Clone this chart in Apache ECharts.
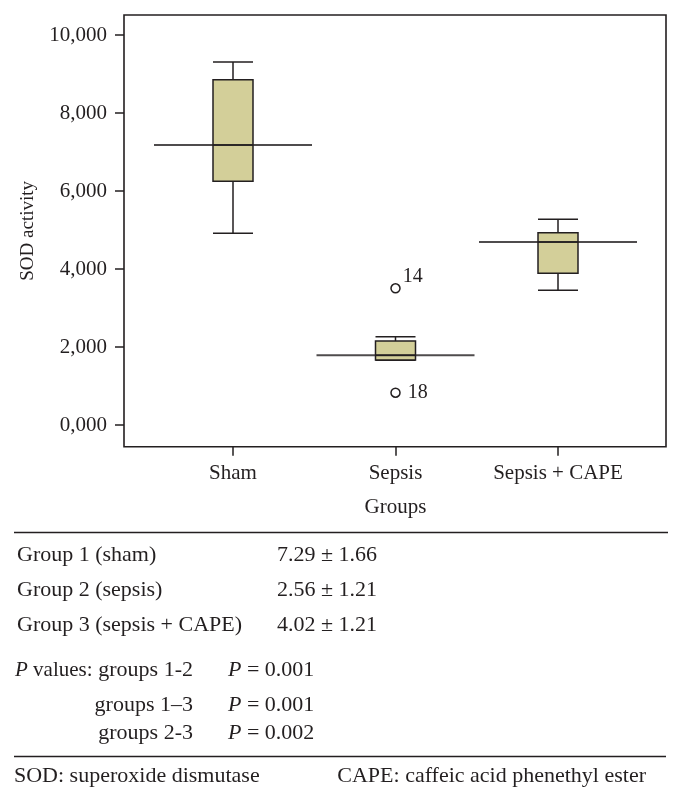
<!DOCTYPE html>
<html>
<head>
<meta charset="utf-8">
<script src="https://cdn.jsdelivr.net/npm/echarts@6/dist/echarts.min.js"></script>
<style>
  html, body { margin: 0; padding: 0; background: #fff; }
  #chart { width: 680px; height: 800px; }
</style>
</head>
<body>
<div id="chart"></div>
<script>
// ---- data ----
const categories = ['Sham', 'Sepsis', 'Sepsis + CAPE'];
const whiskerLow = [4920, 1660, 3455];
const q1 = [6250, 1670, 3890];
const medians = [7180, 1790, 4690];
const q3 = [8850, 2155, 4930];
const whiskerHigh = [9310, 2265, 5275];
const outlierGroups = ['Sepsis', 'Sepsis'];
const outlierValues = [3505, 828];
const outlierLabels = ['14', '18'];
const tickValues = [0, 2000, 4000, 6000, 8000, 10000];
const tickLabels = ['0,000', '2,000', '4,000', '6,000', '8,000', '10,000'];
const tableLabels = ['Group 1 (sham)', 'Group 2 (sepsis)', 'Group 3 (sepsis + CAPE)'];
const tableValues = ['7.29 \u00b1 1.66', '2.56 \u00b1 1.21', '4.02 \u00b1 1.21'];
const pComparisons = ['groups 1-2', 'groups 1\u20133', 'groups 2-3'];
const pValues = ['0.001', '0.001', '0.002'];
const footLeft = 'SOD: superoxide dismutase';
const footRight = 'CAPE: caffeic acid phenethyl ester';

// ---- style ----
const FONT = '"Liberation Serif", "DejaVu Serif", serif';
const INK = '#231f20';
const yMin = -556, yMax = 10513;

const boxData = categories.map((c, i) => [whiskerLow[i], q1[i], medians[i], q3[i], whiskerHigh[i]]);
const outlierData = outlierGroups.map((g, i) => ({
  value: [g, outlierValues[i]],
  label: i === 0
    ? { show: true, formatter: outlierLabels[i], position: 'right', offset: [-3, -12] }
    : { show: true, formatter: outlierLabels[i], position: 'right', offset: [2, 0] }
}));

const chart = echarts.init(document.getElementById('chart'), null, { renderer: 'canvas' });

const graphics = [];
graphics.push({ type: 'line', shape: { x1: 14, y1: 532.5, x2: 668, y2: 532.5 }, style: { stroke: INK, lineWidth: 1.6 } });
graphics.push({ type: 'line', shape: { x1: 14, y1: 756.5, x2: 666, y2: 756.5 }, style: { stroke: INK, lineWidth: 1.6 } });
const rowY = [555, 590.5, 625];
tableLabels.forEach((t, i) => {
  graphics.push({ type: 'text', style: { text: t, x: 17, y: rowY[i], font: '22px ' + FONT, fill: INK, verticalAlign: 'middle', align: 'left' } });
  graphics.push({ type: 'text', style: { text: tableValues[i], x: 277, y: rowY[i], font: '22px ' + FONT, fill: INK, verticalAlign: 'middle', align: 'left' } });
});
const pY = [670, 705, 733];
graphics.push({ type: 'text', style: {
  text: '{i|P}{n| values:}', x: 15, y: pY[0], fill: INK, verticalAlign: 'middle', align: 'left',
  font: '21px ' + FONT,
  rich: {
    i: { fontStyle: 'italic', fontFamily: FONT, fontSize: 21, fill: INK, verticalAlign: 'middle' },
    n: { fontFamily: FONT, fontSize: 21, fill: INK, verticalAlign: 'middle' }
  }
} });
pComparisons.forEach((t, i) => {
  graphics.push({ type: 'text', style: { text: t, x: 193, y: pY[i], font: '22px ' + FONT, fill: INK, verticalAlign: 'middle', align: 'right' } });
  graphics.push({ type: 'text', style: {
    text: '{i|P}{n| = ' + pValues[i] + '}', x: 228, y: pY[i], font: '22px ' + FONT, fill: INK, verticalAlign: 'middle', align: 'left',
    rich: {
      i: { fontStyle: 'italic', fontFamily: FONT, fontSize: 22, fill: INK, verticalAlign: 'middle' },
      n: { fontFamily: FONT, fontSize: 22, fill: INK, verticalAlign: 'middle' }
    }
  } });
});
graphics.push({ type: 'text', style: { text: footLeft, x: 14, y: 776, font: '22px ' + FONT, fill: INK, verticalAlign: 'middle', align: 'left' } });
graphics.push({ type: 'text', style: { text: footRight, x: 646, y: 776, font: '22px ' + FONT, fill: INK, verticalAlign: 'middle', align: 'right' } });

const option = {
  backgroundColor: '#fff',
  animation: false,
  textStyle: { fontFamily: FONT, color: INK },
  grid: [
    { left: 124, top: 15, width: 542, height: 431.7, show: true, borderColor: INK, borderWidth: 1.6, backgroundColor: 'transparent', containLabel: false },
    { left: 151.75, top: 15, width: 487.5, height: 431.7, containLabel: false }
  ],
  xAxis: [
    { gridIndex: 0, type: 'value', min: 0, max: 1, show: false },
    {
      gridIndex: 1, type: 'category', data: categories, position: 'bottom',
      axisLine: { show: false, onZero: false },
      axisTick: { show: true, alignWithLabel: true, length: 9, lineStyle: { color: INK, width: 1.5 } },
      axisLabel: { color: INK, fontFamily: FONT, fontSize: 21, margin: 16, interval: 0 },
      splitLine: { show: false },
      name: 'Groups', nameLocation: 'middle', nameGap: 50,
      nameTextStyle: { color: INK, fontFamily: FONT, fontSize: 21 }
    }
  ],
  yAxis: [
    {
      gridIndex: 0, type: 'value', min: yMin, max: yMax,
      axisLine: { show: false, onZero: false },
      axisTick: { show: true, length: 9, customValues: tickValues, lineStyle: { color: INK, width: 1.5 } },
      axisLabel: {
        color: INK, fontFamily: FONT, fontSize: 21, margin: 17, customValues: tickValues,
        formatter: v => tickLabels[tickValues.indexOf(v)]
      },
      splitLine: { show: false },
      name: 'SOD activity', nameLocation: 'middle', nameGap: 86,
      nameTextStyle: { color: INK, fontFamily: FONT, fontSize: 19 }
    },
    { gridIndex: 1, type: 'value', min: yMin, max: yMax, show: false, splitLine: { show: false } }
  ],
  series: [
    {
      type: 'boxplot', xAxisIndex: 1, yAxisIndex: 1,
      data: boxData,
      boxWidth: [40, 40],
      itemStyle: { color: '#d3cf99', borderColor: INK, borderWidth: 1.5 },
      emphasis: { disabled: true }
    },
    {
      type: 'scatter', xAxisIndex: 1, yAxisIndex: 1,
      data: categories.map((c, i) => [c, medians[i]]),
      symbol: 'rect', symbolSize: [158, 2],
      itemStyle: { color: INK },
      silent: true, z: 5
    },
    {
      type: 'scatter', xAxisIndex: 1, yAxisIndex: 1,
      data: outlierData,
      symbol: 'circle', symbolSize: 9,
      itemStyle: { color: '#fff', borderColor: INK, borderWidth: 1.5, opacity: 1 },
      label: { color: INK, fontFamily: FONT, fontSize: 20, textBorderWidth: 0, opacity: 1 },
      silent: true, z: 5
    }
  ],
  graphic: graphics
};
chart.setOption(option);
</script>
</body>
</html>
